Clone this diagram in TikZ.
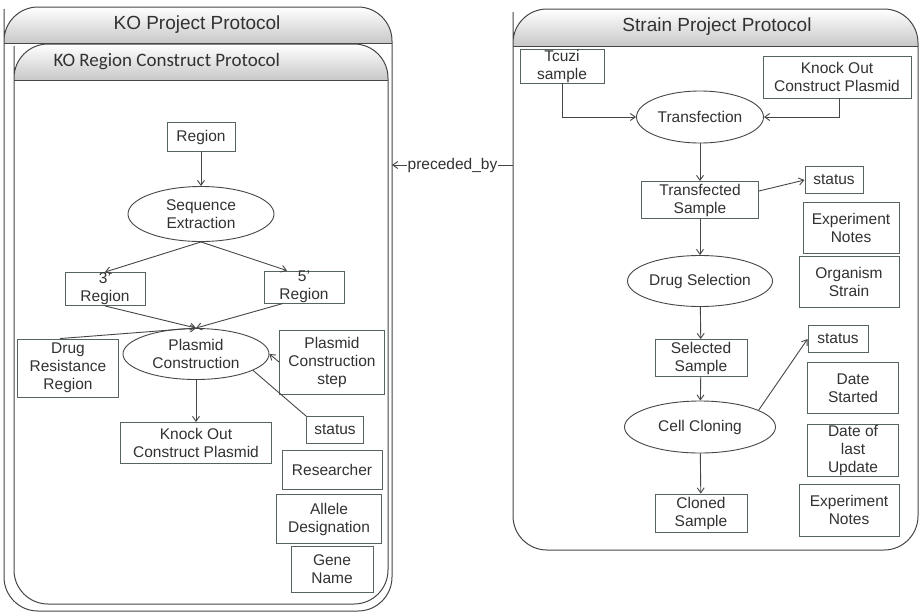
\documentclass[tikz,border=0pt]{standalone}
\usepackage{fontspec}
\setmainfont{Liberation Sans}
\newfontfamily\calfont{Carlito}
\usetikzlibrary{arrows.meta,positioning,calc,shapes.geometric}
\definecolor{ink}{RGB}{50,50,50}
\definecolor{edge}{RGB}{70,70,70}
\definecolor{boxline}{RGB}{85,100,95}
\definecolor{hdr}{RGB}{200,200,200}

\begin{document}
\begin{tikzpicture}[x=1pt,y=-1pt,
  every node/.style={font=\fontsize{15.5}{18}\selectfont,text=ink},
  box/.style={draw=boxline,line width=0.9pt,align=center,inner sep=0pt},
  oval/.style={draw=edge,ellipse,line width=0.9pt,align=center,inner sep=0pt},
  link/.style={draw=edge,line width=0.9pt},
  arr/.style={link,-{Straight Barb[length=5pt,width=7pt]}},
  frame/.style={draw=edge,line width=1pt},
  title/.style={font=\fontsize{19}{22}\selectfont}]
 \useasboundingbox (0,0) rectangle (920,614);
 % protocol frames: left, top, right, bottom, header line
 \foreach \xa/\ya/\xb/\yb/\yh in {4/7/392/611/43,14/44/388/604/80,513/9/918/550/46} {
   \begin{scope}
     \clip[rounded corners=34] (\xa,\yh)--(\xa,\ya)--(\xb,\ya)--(\xb,\yb)--(\xa,\yb)--cycle;
     \fill[white] (\xa,\ya) rectangle (\xb,\yb);
     \shade[top color=white,bottom color=hdr] (\xa,\ya) rectangle (\xb,\yh);
   \end{scope}
   \draw[frame,rounded corners=34] (\xa,\yh)--(\xa,\ya)--(\xb,\ya)--(\xb,\yb)--(\xa,\yb)--cycle;
   \draw[frame] (\xa,\yh)--(\xb,\yh);
 }
 \node[title] (kop) at (197,25) {KO Project Protocol};
 \node[title,font=\calfont\fontsize{19}{22}\selectfont,anchor=west] (krc) at (50,62) {KO Region Construct Protocol};
 \node[title] (spp) at (717,27) {Strain Project Protocol};

 % KO region construct
 \node[box,minimum width=68,minimum height=29] (reg) at (201,137) {Region};
 \node[oval,minimum width=146,minimum height=55] (seqx) at (201,214) {Sequence\\Extraction};
 \node[box,minimum width=80,minimum height=33] (r3) at (105,289) {3'\\Region};
 \node[box,minimum width=80,minimum height=32] (r5) at (304,287) {5'\\Region};
 \node[oval,minimum width=146,minimum height=51] (plc) at (196,354) {Plasmid\\Construction};
 \node[box,minimum width=101,minimum height=58] (drr) at (68,368) {Drug\\Resistance\\Region};
 \node[box,minimum width=105,minimum height=64] (pcs) at (332,362) {Plasmid\\Construction\\step};
 \node[box,minimum width=57,minimum height=27] (st1) at (335,430) {status};
 \node[box,minimum width=151,minimum height=41] (kocp1) at (196,443) {Knock Out\\Construct Plasmid};
 \node[box,minimum width=100,minimum height=39] (rsch) at (332,470) {Researcher};
 \node[box,minimum width=105,minimum height=49] (alle) at (329,519) {Allele\\Designation};
 \node[box,minimum width=82,minimum height=46] (gene) at (332,569) {Gene\\Name};

 \draw[arr] (reg)--(seqx);
 \draw[arr] (seqx.south)--(r3.north);
 \draw[arr] (seqx.south)--([xshift=-17pt]r5.north);
 \draw[arr] (r3.south)--(plc.north);
 \draw[arr] ([xshift=-21pt]r5.south)--(plc.north);
 \draw[arr] ([xshift=-8pt]drr.north)--(plc.north);
 \draw[arr] (pcs.west)--(plc.east);
 \draw[link] (plc.-16)--(st1.north west);
 \draw[arr] (plc)--(kocp1);

 % strain project
 \node[box,minimum width=84,minimum height=34] (tcz) at (562,66) {Tcuzi\\sample};
 \node[box,minimum width=148,minimum height=42] (kocp2) at (837,77) {Knock Out\\Construct Plasmid};
 \node[oval,minimum width=127,minimum height=52] (trf) at (700,117) {Transfection};
 \node[box,minimum width=117,minimum height=37] (tsam) at (700,200) {Transfected\\Sample};
 \node[box,minimum width=58,minimum height=27] (st2) at (834,180) {status};
 \node[box,minimum width=96,minimum height=51] (exn1) at (851,228) {Experiment\\Notes};
 \node[box,minimum width=100,minimum height=51] (org) at (849,282) {Organism\\Strain};
 \node[oval,minimum width=145,minimum height=51] (drs) at (700,281) {Drug Selection};
 \node[box,minimum width=92,minimum height=37] (ssam) at (701,358) {Selected\\Sample};
 \node[box,minimum width=60,minimum height=27] (st3) at (838,339) {status};
 \node[box,minimum width=91,minimum height=51] (dst) at (853,388) {Date\\Started};
 \node[box,minimum width=91,minimum height=52] (dlu) at (853,450) {Date of\\last\\Update};
 \node[box,minimum width=100,minimum height=52] (exn2) at (849,510) {Experiment\\Notes};
 \node[oval,minimum width=151,minimum height=52] (ccl) at (700,427) {Cell Cloning};
 \node[box,minimum width=92,minimum height=38] (csam) at (701,513) {Cloned\\Sample};

 \draw[arr] (tcz.south) |- (trf.west);
 \draw[arr] ([xshift=2pt]kocp2.south) |- (trf.east);
 \draw[arr] (trf)--(tsam);
 \draw[arr] ([yshift=9pt]tsam.east)--(st2.west);
 \draw[arr] (tsam)--(drs);
 \draw[arr] (drs)--(ssam);
 \draw[arr] (ssam)--(ccl);
 \draw[arr] (ccl.16)--(st3.west);
 \draw[arr] (ccl)--(csam);

 \coordinate (spW) at (513,165);
 \coordinate (koE) at (392,165);
 \draw[arr] (spW)--node[fill=white,inner sep=1pt] (pby) {preceded\_by} (koE);
\end{tikzpicture}
\end{document}
